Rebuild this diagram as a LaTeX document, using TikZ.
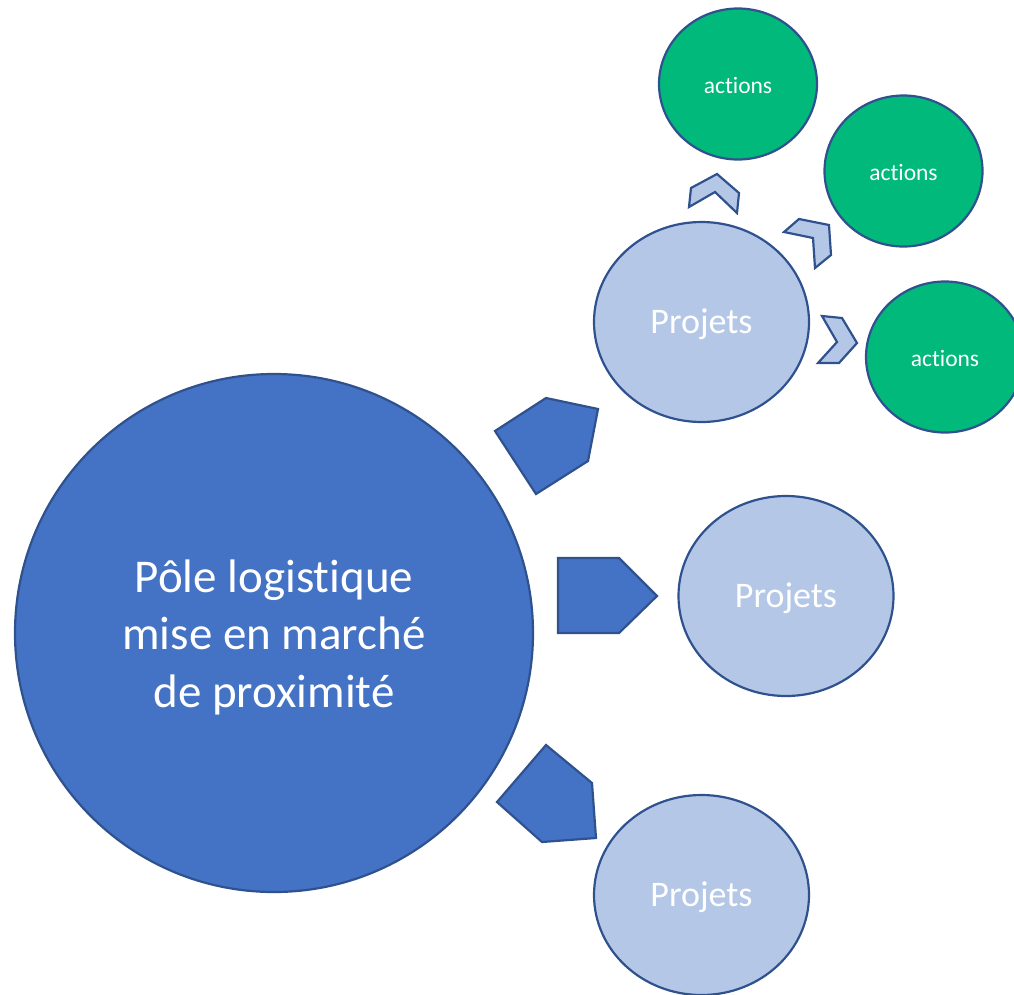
\documentclass[tikz,border=0pt]{standalone}
\usepackage{fontspec}
\setmainfont{Carlito}[Ligatures=NoCommon]
\usetikzlibrary{shapes.geometric}
\definecolor{bigblue}{HTML}{4472C4}
\definecolor{edgeblue}{HTML}{2F528F}
\definecolor{lightblue}{HTML}{B4C7E7}
\definecolor{grn}{RGB}{0,185,122}
\begin{document}
\begin{tikzpicture}[x=1pt,y=-1pt,
  bigc/.style={circle,draw=edgeblue,line width=2.2pt,fill=bigblue,inner sep=0pt,minimum size=518pt},
  bigtxt/.style={text=white,align=center,font=\fontsize{47}{57.5}\selectfont,yshift=-4pt},
  proj/.style={ellipse,draw=edgeblue,line width=2.2pt,fill=lightblue,inner sep=0pt,minimum width=215pt,minimum height=200pt},
  projtxt/.style={text=white,font=\fontsize{36}{40}\selectfont,yshift=-2.5pt},
  act/.style={ellipse,draw=edgeblue,line width=2.2pt,fill=grn,inner sep=0pt,minimum width=158pt,minimum height=151pt},
  acttxt/.style={text=white,font=\fontsize{23.5}{26}\selectfont,yshift=-1pt},
  bigarrow/.style={draw=edgeblue,line width=2.2pt,fill=bigblue,line join=miter},
  chev/.style={draw=edgeblue,line width=2.2pt,fill=lightblue,line join=miter}]
\useasboundingbox (0,0) rectangle (1014,994);
\node[bigc,label={[bigtxt]center:Pôle logistique\\mise en marché\\de proximité}] (pole) at (274,633) {};
\node[proj,label={[projtxt]center:Projets}] (p1) at (701.5,322) {};
\node[proj,label={[projtxt]center:Projets}] (p2) at (786,596) {};
\node[proj,label={[projtxt]center:Projets}] (p3) at (701.5,895) {};
\node[act,label={[acttxt]center:actions}] (a1) at (738,84) {};
\node[act,label={[acttxt]center:actions}] (a2) at (903.5,171) {};
\node[act,label={[acttxt]center:actions}] (a3) at (945,357) {};
% block arrows from the main circle
\draw[bigarrow] (495,431) -- (546,398) -- (598,409) -- (588,461) -- (536,494) -- cycle;
\draw[bigarrow] (558,558) -- (619,558) -- (657,596) -- (619,633) -- (558,633) -- cycle;
\draw[bigarrow] (497,802) -- (546,745) -- (592,783) -- (596,838) -- (542,842) -- cycle;
% chevrons from the first project
\draw[chev] (689,207) -- (691,188) -- (717,174) -- (739,193) -- (737,213) -- (715,192) -- cycle;
\draw[chev] (784,232) -- (799,219) -- (829,225) -- (831,255) -- (815,268) -- (813,238) -- cycle;
\draw[chev] (822,316) -- (842,318) -- (857,343) -- (839,363) -- (818,363) -- (837,342) -- cycle;
\end{tikzpicture}
\end{document}
